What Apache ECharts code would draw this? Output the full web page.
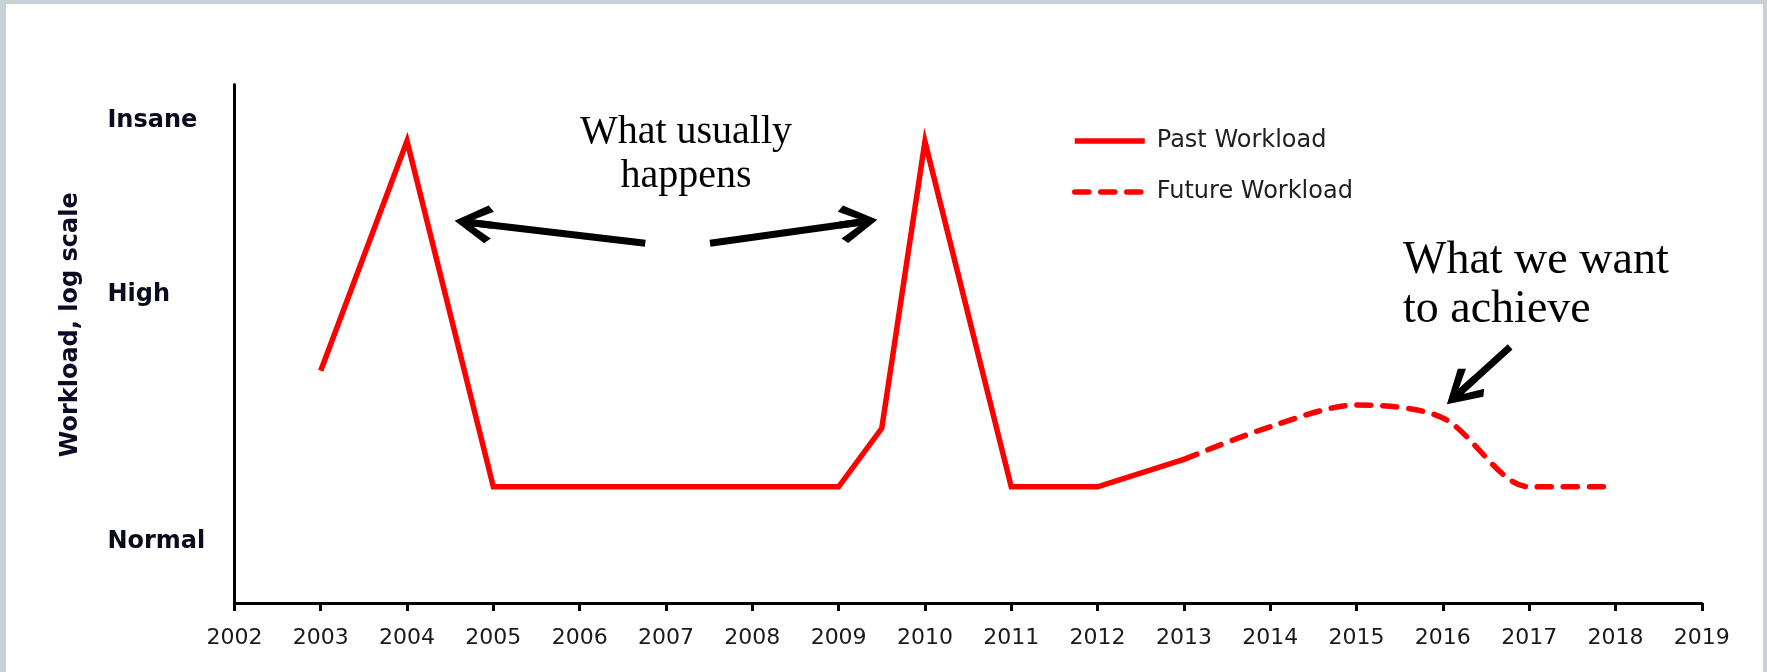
<!DOCTYPE html>
<html>
<head>
<meta charset="utf-8">
<script src="https://cdn.jsdelivr.net/npm/echarts@6/dist/echarts.min.js"></script>
<style>
html, body { margin: 0; padding: 0; background: #c6d1d8; }
#panel { position: absolute; left: 6px; top: 4px; width: 1757px; height: 668px; background: #fff; }
#main { position: absolute; left: 0; top: 0; width: 1767px; height: 672px; }
</style>
</head>
<body>
<div id="panel"></div>
<div id="main"></div>
<script>
// years on the x axis, workload on an arbitrary 0..10 scale
var past_x   = [2003, 2004, 2005, 2006, 2007, 2008, 2009, 2009.5, 2010, 2011, 2012, 2013];
var past_y   = [4.48, 8.91, 2.24, 2.24, 2.24, 2.24, 2.24, 3.37,   8.90, 2.24, 2.24, 2.77];
var future_x = [2013, 2014, 2015, 2016, 2017, 2017.88];
var future_y = [2.77, 3.40, 3.82, 3.57, 2.24, 2.24];

var level_values = [1.18, 5.94, 9.30];
var level_names  = ['Normal', 'High', 'Insane'];

// annotation arrows: [tail, head] in data coords
var arrow_list = [
    [[2006.76, 6.94], [2004.77, 7.33]],
    [[2007.51, 6.94], [2009.23, 7.34]],
    [[2016.78, 4.94], [2016.21, 4.08]]
];

var chevron = 'path://M19,0 L38,32 L32.5,38 L19,12.5 L5.5,38 L0,32 Z M15.5,10 L22.5,10 L22.5,38 L15.5,38 Z';

function pair(xs, ys) {
    var out = [];
    for (var i = 0; i < xs.length; i++) { out.push([xs[i], ys[i]]); }
    return out;
}

var myChart = echarts.init(document.getElementById('main'));
var option = {
    animation: false,
    grid: { left: 234.4, right: 65.2, top: 84.5, bottom: 69, outerBoundsMode: 'none' },
    legend: {
        orient: 'vertical',
        left: 1067,
        top: 124,
        itemWidth: 70,
        itemHeight: 14,
        itemGap: 27,
        lineStyle: { width: 5.5 },
        itemStyle: { opacity: 0 },
        textStyle: { fontFamily: 'DejaVu Sans', fontSize: 24, color: '#1f1f1f', padding: [0, 0, 0, 7] },
        data: ['Past Workload', 'Future Workload']
    },
    xAxis: {
        type: 'value',
        min: 2002,
        max: 2019,
        interval: 1,
        axisLine: { show: true, lineStyle: { color: '#000', width: 3 } },
        axisTick: { show: true, length: 8, lineStyle: { color: '#000', width: 3 } },
        axisLabel: {
            margin: 24,
            fontFamily: 'DejaVu Sans',
            fontSize: 22,
            color: '#1a1a1a',
            formatter: function (v) { return String(v); }
        },
        splitLine: { show: false }
    },
    yAxis: {
        type: 'value',
        min: 0,
        max: 10,
        axisLine: { show: true, lineStyle: { color: '#000', width: 3 } },
        axisTick: { show: false },
        splitLine: { show: false },
        axisLabel: {
            customValues: level_values,
            formatter: function (v) {
                var i = level_values.indexOf(v);
                return i >= 0 ? level_names[i] : '';
            },
            align: 'left',
            margin: 127,
            fontFamily: 'DejaVu Sans',
            fontWeight: 'bold',
            fontSize: 24,
            color: '#0b0b1e'
        },
        name: 'Workload, log scale',
        nameLocation: 'middle',
        nameRotate: 90,
        nameGap: 152,
        nameTextStyle: {
            fontFamily: 'DejaVu Sans',
            fontWeight: 'bold',
            fontSize: 24,
            color: '#0b0b26',
            padding: [0, 0, 0, 38]
        }
    },
    graphic: [
        {
            type: 'text',
            x: 686,
            y: 110,
            silent: true,
            style: {
                text: 'What usually\nhappens',
                fontFamily: 'Liberation Serif',
                fontSize: 40,
                lineHeight: 44,
                fill: '#000',
                align: 'center',
                verticalAlign: 'top'
            }
        },
        {
            type: 'text',
            x: 1403,
            y: 236,
            silent: true,
            style: {
                text: 'What we want\nto achieve',
                fontFamily: 'Liberation Serif',
                fontSize: 46,
                lineHeight: 49,
                fill: '#000',
                align: 'left',
                verticalAlign: 'top'
            }
        }
    ],
    series: [
        {
            name: 'Past Workload',
            type: 'line',
            data: pair(past_x, past_y),
            symbol: 'none',
            itemStyle: { color: '#ff0000' },
            lineStyle: { color: '#ff0000', width: 5.5, join: 'miter' },
            emphasis: { disabled: true },
            markLine: {
                silent: true,
                symbol: ['none', chevron],
                symbolSize: [38, 38],
                label: { show: false },
                emphasis: { disabled: true },
                lineStyle: { color: '#000', width: 7, type: 'solid' },
                data: arrow_list.map(function (a) {
                    return [{ coord: a[0] }, { coord: a[1] }];
                })
            }
        },
        {
            name: 'Future Workload',
            type: 'line',
            data: pair(future_x, future_y),
            symbol: 'none',
            smooth: 0.3,
            itemStyle: { color: '#ff0000' },
            lineStyle: { color: '#ff0000', width: 5.5, type: [14, 12], cap: 'round' },
            emphasis: { disabled: true }
        }
    ]
};
myChart.setOption(option);
</script>
</body>
</html>
